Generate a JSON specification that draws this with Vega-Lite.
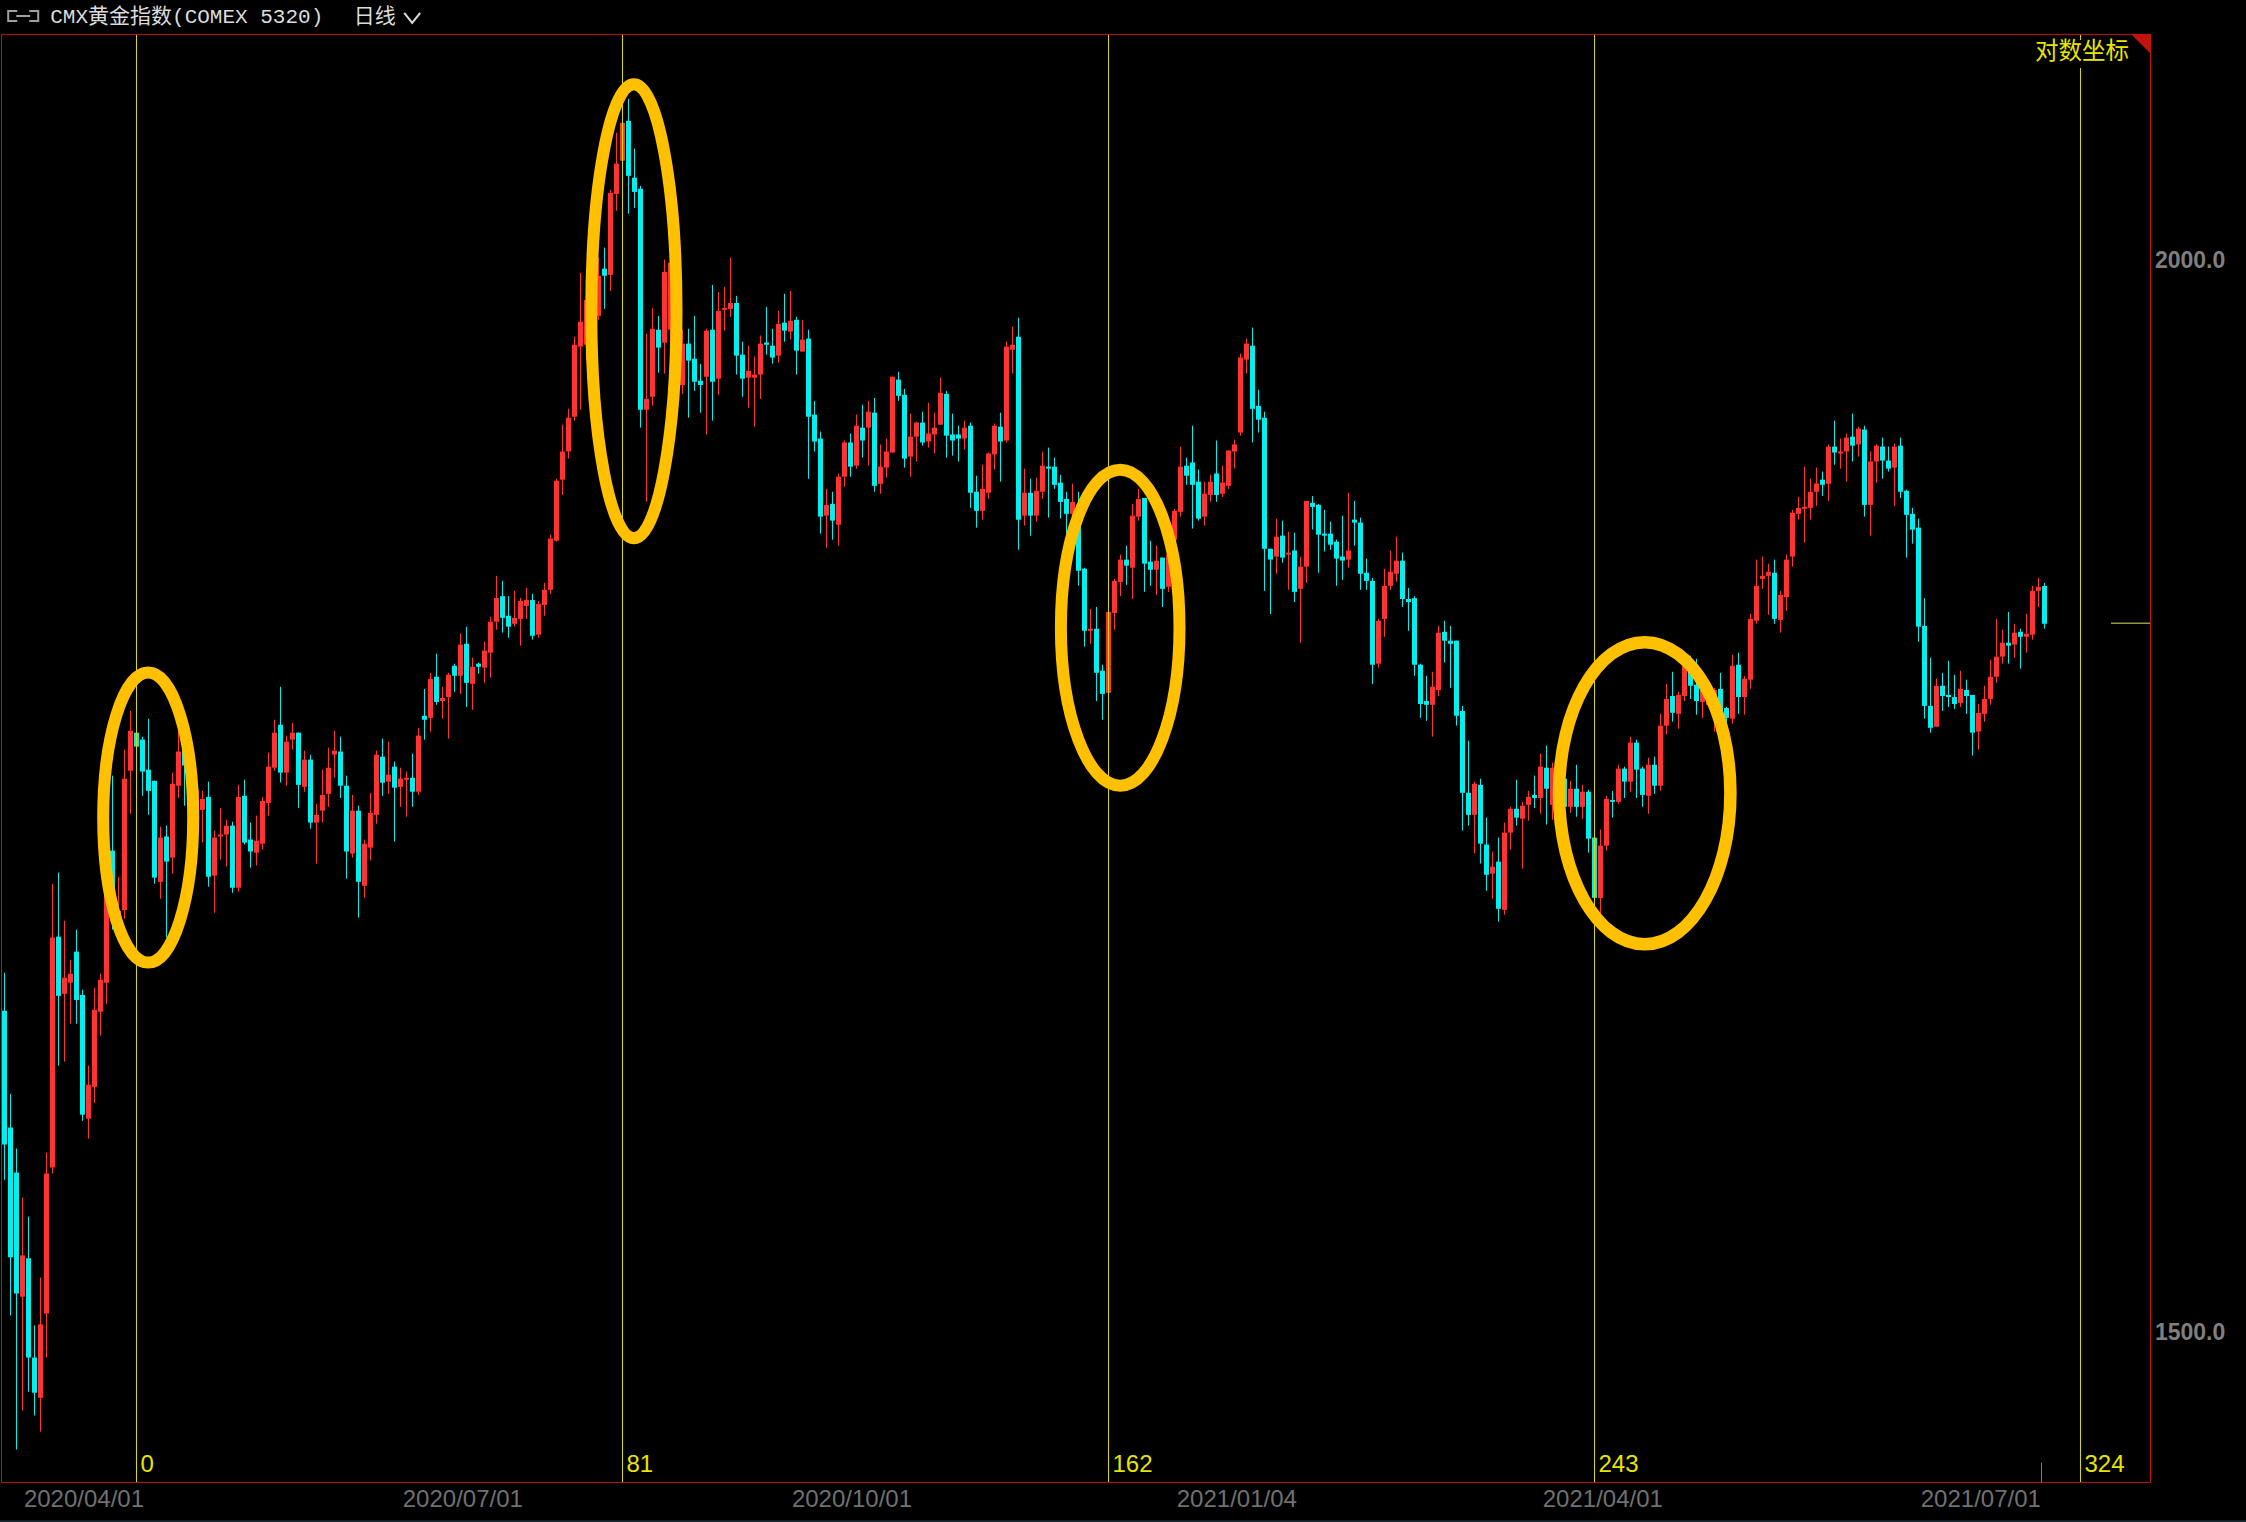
{"$schema":"https://vega.github.io/schema/vega-lite/v6.json","width":2246,"height":1522,"padding":0,"autosize":{"type":"none"},"background":"#000000","config":{"view":{"stroke":null}},
"datasets":{"c":[
{"i":0,"o":1635.5,"h":1652.3,"l":1563.1,"c":1577.9},{"i":1,"o":1585.1,"h":1599.5,"l":1507.2,"c":1530.9},{"i":2,"o":1566.1,"h":1576.2,"l":1454.0,"c":1516.1},{"i":3,"o":1514.8,"h":1555.6,"l":1469.2,"c":1531.7},{"i":4,"o":1530.5,"h":1547.7,"l":1476.7,"c":1490.3},{"i":5,"o":1490.3,"h":1503.2,"l":1467.3,"c":1476.3},{"i":6,"o":1474.3,"h":1522.6,"l":1461.0,"c":1503.6},{"i":7,"o":1508.0,"h":1574.5,"l":1490.3,"c":1565.7},{"i":8,"o":1568.2,"h":1692.2,"l":1565.7,"c":1668.0},{"i":9,"o":1668.4,"h":1697.3,"l":1611.7,"c":1642.1},
{"i":10,"o":1643.0,"h":1675.5,"l":1613.4,"c":1650.1},{"i":11,"o":1647.9,"h":1658.1,"l":1629.9,"c":1651.9},{"i":12,"o":1661.7,"h":1671.5,"l":1629.9,"c":1640.3},{"i":13,"o":1642.5,"h":1644.8,"l":1588.0,"c":1590.6},{"i":14,"o":1588.9,"h":1611.7,"l":1580.4,"c":1603.4},{"i":15,"o":1602.5,"h":1645.7,"l":1595.6,"c":1636.0},{"i":16,"o":1635.1,"h":1651.9,"l":1624.7,"c":1649.2},{"i":17,"o":1647.9,"h":1698.6,"l":1638.6,"c":1691.8},{"i":18,"o":1707.3,"h":1742.0,"l":1671.5,"c":1689.5},{"i":19,"o":1678.7,"h":1695.4,"l":1673.7,"c":1680.0},
{"i":20,"o":1680.4,"h":1754.2,"l":1676.4,"c":1740.6},{"i":21,"o":1744.3,"h":1772.5,"l":1724.3,"c":1763.1},{"i":22,"o":1762.2,"h":1765.9,"l":1751.8,"c":1755.6},{"i":23,"o":1758.9,"h":1760.3,"l":1732.6,"c":1743.9},{"i":24,"o":1744.8,"h":1768.8,"l":1723.8,"c":1734.9},{"i":25,"o":1739.6,"h":1739.6,"l":1692.2,"c":1695.0},{"i":26,"o":1693.1,"h":1718.3,"l":1685.4,"c":1713.3},{"i":27,"o":1713.8,"h":1718.8,"l":1668.0,"c":1702.3},{"i":28,"o":1704.1,"h":1743.4,"l":1696.8,"c":1738.2},{"i":29,"o":1737.3,"h":1763.6,"l":1731.6,"c":1753.3},
{"i":30,"o":1754.2,"h":1762.2,"l":1728.0,"c":1746.7},{"i":31,"o":1740.1,"h":1749.5,"l":1707.8,"c":1717.0},{"i":32,"o":1719.3,"h":1737.7,"l":1710.1,"c":1735.4},{"i":33,"o":1726.1,"h":1734.9,"l":1711.0,"c":1731.2},{"i":34,"o":1732.1,"h":1739.2,"l":1690.9,"c":1695.4},{"i":35,"o":1695.9,"h":1716.5,"l":1679.1,"c":1713.3},{"i":36,"o":1713.8,"h":1727.0,"l":1703.2,"c":1714.7},{"i":37,"o":1714.7,"h":1721.5,"l":1700.0,"c":1718.8},{"i":38,"o":1718.8,"h":1720.6,"l":1688.1,"c":1690.4},{"i":39,"o":1690.4,"h":1737.7,"l":1688.6,"c":1732.1},
{"i":40,"o":1732.6,"h":1740.1,"l":1710.1,"c":1711.0},{"i":41,"o":1712.4,"h":1720.2,"l":1699.6,"c":1706.9},{"i":42,"o":1706.4,"h":1723.4,"l":1700.5,"c":1711.9},{"i":43,"o":1710.5,"h":1732.1,"l":1707.8,"c":1730.2},{"i":44,"o":1729.3,"h":1752.8,"l":1723.4,"c":1746.2},{"i":45,"o":1745.7,"h":1768.3,"l":1744.3,"c":1762.2},{"i":46,"o":1765.9,"h":1784.0,"l":1738.8,"c":1743.4},{"i":47,"o":1743.4,"h":1760.8,"l":1737.3,"c":1757.9},{"i":48,"o":1758.9,"h":1766.9,"l":1754.2,"c":1762.2},{"i":49,"o":1762.2,"h":1762.2,"l":1727.0,"c":1737.7},
{"i":50,"o":1736.8,"h":1753.7,"l":1734.5,"c":1749.5},{"i":51,"o":1749.5,"h":1751.8,"l":1717.4,"c":1720.2},{"i":52,"o":1720.2,"h":1728.9,"l":1701.4,"c":1723.8},{"i":53,"o":1725.7,"h":1744.8,"l":1720.2,"c":1733.0},{"i":54,"o":1733.5,"h":1755.1,"l":1727.5,"c":1745.7},{"i":55,"o":1751.8,"h":1763.1,"l":1741.0,"c":1753.7},{"i":56,"o":1753.3,"h":1760.3,"l":1731.6,"c":1737.3},{"i":57,"o":1737.3,"h":1742.0,"l":1694.5,"c":1706.9},{"i":58,"o":1706.0,"h":1733.0,"l":1704.1,"c":1725.7},{"i":59,"o":1725.7,"h":1728.0,"l":1676.9,"c":1693.1},
{"i":60,"o":1691.3,"h":1712.4,"l":1685.8,"c":1710.5},{"i":61,"o":1708.7,"h":1734.0,"l":1702.8,"c":1724.7},{"i":62,"o":1723.8,"h":1753.7,"l":1719.7,"c":1751.8},{"i":63,"o":1750.9,"h":1759.4,"l":1732.6,"c":1738.7},{"i":64,"o":1739.2,"h":1757.9,"l":1733.5,"c":1742.5},{"i":65,"o":1746.2,"h":1748.6,"l":1711.5,"c":1736.4},{"i":66,"o":1736.8,"h":1745.7,"l":1727.5,"c":1740.6},{"i":67,"o":1740.1,"h":1743.9,"l":1722.9,"c":1741.0},{"i":68,"o":1741.0,"h":1752.3,"l":1727.5,"c":1734.5},{"i":69,"o":1734.5,"h":1764.5,"l":1733.0,"c":1760.8},
{"i":70,"o":1770.2,"h":1783.0,"l":1758.9,"c":1768.3},{"i":71,"o":1769.2,"h":1790.7,"l":1762.7,"c":1787.8},{"i":72,"o":1788.8,"h":1799.9,"l":1775.4,"c":1776.8},{"i":73,"o":1777.2,"h":1784.0,"l":1768.8,"c":1778.7},{"i":74,"o":1779.1,"h":1790.7,"l":1759.4,"c":1789.8},{"i":75,"o":1794.1,"h":1795.1,"l":1781.6,"c":1789.3},{"i":76,"o":1789.3,"h":1809.6,"l":1780.6,"c":1804.3},{"i":77,"o":1804.7,"h":1813.0,"l":1774.4,"c":1785.9},{"i":78,"o":1785.4,"h":1798.0,"l":1773.0,"c":1793.6},{"i":79,"o":1795.1,"h":1795.6,"l":1790.3,"c":1793.6},
{"i":80,"o":1793.2,"h":1805.7,"l":1785.9,"c":1801.4},{"i":81,"o":1800.4,"h":1817.8,"l":1788.3,"c":1815.4},{"i":82,"o":1815.4,"h":1837.9,"l":1811.5,"c":1827.0},{"i":83,"o":1827.9,"h":1835.4,"l":1810.1,"c":1817.3},{"i":84,"o":1818.3,"h":1827.9,"l":1807.6,"c":1813.0},{"i":85,"o":1814.4,"h":1830.5,"l":1813.0,"c":1817.3},{"i":86,"o":1816.8,"h":1827.0,"l":1803.8,"c":1825.5},{"i":87,"o":1823.1,"h":1832.0,"l":1816.8,"c":1826.0},{"i":88,"o":1826.0,"h":1829.0,"l":1806.7,"c":1808.6},{"i":89,"o":1809.1,"h":1825.5,"l":1807.6,"c":1824.1},
{"i":90,"o":1823.6,"h":1834.4,"l":1818.3,"c":1831.0},{"i":91,"o":1831.0,"h":1858.3,"l":1829.0,"c":1856.3},{"i":92,"o":1855.3,"h":1886.4,"l":1854.8,"c":1885.4},{"i":93,"o":1885.9,"h":1913.9,"l":1878.2,"c":1900.2},{"i":94,"o":1900.2,"h":1922.1,"l":1896.6,"c":1917.5},{"i":95,"o":1918.0,"h":1959.6,"l":1916.0,"c":1955.4},{"i":96,"o":1954.4,"h":1993.5,"l":1921.6,"c":1967.5},{"i":97,"o":1955.4,"h":1983.3,"l":1947.6,"c":1979.0},{"i":98,"o":1968.5,"h":1995.1,"l":1960.7,"c":1982.7},{"i":99,"o":1970.6,"h":2001.6,"l":1968.5,"c":1991.9},
{"i":100,"o":1995.7,"h":2007.0,"l":1974.3,"c":1991.9},{"i":101,"o":1992.4,"h":2038.3,"l":1983.8,"c":2036.7},{"i":102,"o":2036.1,"h":2069.8,"l":2026.9,"c":2052.7},{"i":103,"o":2054.3,"h":2077.0,"l":2052.1,"c":2075.3},{"i":104,"o":2076.4,"h":2088.6,"l":2025.3,"c":2046.0},{"i":105,"o":2045.0,"h":2061.0,"l":2028.5,"c":2037.2},{"i":106,"o":2038.9,"h":2040.5,"l":1912.4,"c":1921.6},{"i":107,"o":1921.6,"h":1961.2,"l":1874.7,"c":1927.2},{"i":108,"o":1928.3,"h":1974.8,"l":1923.6,"c":1963.8},{"i":109,"o":1963.3,"h":1970.6,"l":1940.8,"c":1953.9},
{"i":110,"o":1956.5,"h":2000.5,"l":1940.3,"c":1994.0},{"i":111,"o":1963.3,"h":2010.2,"l":1947.6,"c":1998.9},{"i":112,"o":1939.8,"h":1979.0,"l":1926.7,"c":1960.7},{"i":113,"o":1934.4,"h":1963.3,"l":1929.8,"c":1956.0},{"i":114,"o":1956.0,"h":1963.8,"l":1917.5,"c":1947.1},{"i":115,"o":1948.1,"h":1970.6,"l":1931.4,"c":1936.1},{"i":116,"o":1936.6,"h":1945.4,"l":1920.1,"c":1934.4},{"i":117,"o":1938.7,"h":1963.8,"l":1908.9,"c":1962.8},{"i":118,"o":1963.3,"h":1987.0,"l":1916.0,"c":1936.1},{"i":119,"o":1937.7,"h":1983.3,"l":1929.3,"c":1973.2},
{"i":120,"o":1973.8,"h":1986.0,"l":1962.8,"c":1974.8},{"i":121,"o":1974.3,"h":2001.6,"l":1970.1,"c":1977.4},{"i":122,"o":1977.4,"h":1981.2,"l":1939.8,"c":1949.7},{"i":123,"o":1950.2,"h":1957.0,"l":1928.3,"c":1937.7},{"i":124,"o":1938.2,"h":1954.9,"l":1922.6,"c":1941.8},{"i":125,"o":1938.2,"h":1949.2,"l":1912.9,"c":1939.8},{"i":126,"o":1939.8,"h":1960.2,"l":1927.2,"c":1956.0},{"i":127,"o":1956.5,"h":1975.3,"l":1950.2,"c":1955.4},{"i":128,"o":1954.9,"h":1963.8,"l":1945.5,"c":1948.7},{"i":129,"o":1949.7,"h":1973.2,"l":1946.0,"c":1966.4},
{"i":130,"o":1967.0,"h":1982.3,"l":1957.0,"c":1962.8},{"i":131,"o":1962.3,"h":1983.8,"l":1958.1,"c":1968.0},{"i":132,"o":1968.5,"h":1970.1,"l":1939.8,"c":1952.3},{"i":133,"o":1951.8,"h":1968.5,"l":1951.8,"c":1958.1},{"i":134,"o":1958.6,"h":1963.3,"l":1886.4,"c":1918.0},{"i":135,"o":1919.1,"h":1926.2,"l":1900.2,"c":1905.3},{"i":136,"o":1906.8,"h":1910.4,"l":1858.8,"c":1867.3},{"i":137,"o":1867.8,"h":1881.3,"l":1851.8,"c":1873.2},{"i":138,"o":1873.7,"h":1879.8,"l":1855.8,"c":1865.3},{"i":139,"o":1863.3,"h":1889.0,"l":1852.8,"c":1887.4},
{"i":140,"o":1887.4,"h":1905.8,"l":1882.3,"c":1904.8},{"i":141,"o":1904.8,"h":1909.4,"l":1887.4,"c":1892.5},{"i":142,"o":1893.0,"h":1919.1,"l":1891.5,"c":1913.4},{"i":143,"o":1912.4,"h":1924.2,"l":1897.1,"c":1905.8},{"i":144,"o":1912.4,"h":1926.2,"l":1893.0,"c":1920.6},{"i":145,"o":1920.1,"h":1927.7,"l":1879.8,"c":1882.8},{"i":146,"o":1883.8,"h":1903.8,"l":1878.8,"c":1892.5},{"i":147,"o":1892.0,"h":1906.8,"l":1886.9,"c":1900.2},{"i":148,"o":1899.7,"h":1938.7,"l":1899.7,"c":1938.7},{"i":149,"o":1937.2,"h":1941.3,"l":1926.2,"c":1928.8},
{"i":150,"o":1929.3,"h":1932.4,"l":1892.0,"c":1896.6},{"i":151,"o":1897.6,"h":1919.6,"l":1887.4,"c":1907.8},{"i":152,"o":1907.8,"h":1915.5,"l":1895.1,"c":1915.0},{"i":153,"o":1915.0,"h":1920.6,"l":1903.2,"c":1904.8},{"i":154,"o":1905.3,"h":1925.2,"l":1902.2,"c":1909.4},{"i":155,"o":1908.9,"h":1920.1,"l":1899.2,"c":1912.4},{"i":156,"o":1913.9,"h":1938.2,"l":1913.9,"c":1930.4},{"i":157,"o":1929.8,"h":1931.4,"l":1897.1,"c":1908.3},{"i":158,"o":1908.9,"h":1919.6,"l":1898.1,"c":1905.8},{"i":159,"o":1908.9,"h":1913.4,"l":1895.1,"c":1906.8},
{"i":160,"o":1906.8,"h":1916.0,"l":1901.2,"c":1912.4},{"i":161,"o":1913.4,"h":1915.0,"l":1871.7,"c":1879.3},{"i":162,"o":1879.8,"h":1887.9,"l":1861.8,"c":1870.2},{"i":163,"o":1870.2,"h":1893.5,"l":1865.8,"c":1881.3},{"i":164,"o":1879.3,"h":1899.7,"l":1876.2,"c":1899.2},{"i":165,"o":1898.7,"h":1914.5,"l":1891.0,"c":1913.4},{"i":166,"o":1912.9,"h":1920.1,"l":1884.9,"c":1905.3},{"i":167,"o":1905.8,"h":1957.0,"l":1904.8,"c":1954.4},{"i":168,"o":1952.8,"h":1964.9,"l":1940.3,"c":1955.4},{"i":169,"o":1959.6,"h":1969.6,"l":1850.8,"c":1865.8},
{"i":170,"o":1867.8,"h":1891.5,"l":1862.8,"c":1879.3},{"i":171,"o":1879.3,"h":1886.4,"l":1857.8,"c":1867.8},{"i":172,"o":1867.8,"h":1886.9,"l":1864.8,"c":1880.3},{"i":173,"o":1879.8,"h":1900.2,"l":1876.2,"c":1893.0},{"i":174,"o":1892.5,"h":1902.2,"l":1866.8,"c":1891.5},{"i":175,"o":1892.5,"h":1897.1,"l":1881.3,"c":1883.3},{"i":176,"o":1884.4,"h":1888.4,"l":1866.3,"c":1874.7},{"i":177,"o":1876.2,"h":1879.8,"l":1858.3,"c":1868.7},{"i":178,"o":1868.7,"h":1883.9,"l":1865.8,"c":1874.7},{"i":179,"o":1873.2,"h":1879.8,"l":1833.0,"c":1840.4},
{"i":180,"o":1841.4,"h":1841.9,"l":1803.3,"c":1811.0},{"i":181,"o":1811.0,"h":1821.7,"l":1804.7,"c":1812.0},{"i":182,"o":1812.0,"h":1822.6,"l":1777.2,"c":1790.7},{"i":183,"o":1791.7,"h":1794.6,"l":1768.3,"c":1780.6},{"i":184,"o":1781.1,"h":1820.2,"l":1781.1,"c":1820.2},{"i":185,"o":1819.7,"h":1836.4,"l":1811.5,"c":1835.4},{"i":186,"o":1834.9,"h":1848.4,"l":1827.9,"c":1845.9},{"i":187,"o":1845.9,"h":1852.8,"l":1833.4,"c":1842.9},{"i":188,"o":1841.9,"h":1873.7,"l":1826.5,"c":1867.8},{"i":189,"o":1867.3,"h":1881.3,"l":1865.3,"c":1876.2},
{"i":190,"o":1876.7,"h":1876.7,"l":1830.0,"c":1843.9},{"i":191,"o":1844.9,"h":1855.3,"l":1833.0,"c":1840.9},{"i":192,"o":1840.9,"h":1852.8,"l":1828.5,"c":1845.4},{"i":193,"o":1846.9,"h":1846.9,"l":1822.6,"c":1831.5},{"i":194,"o":1832.5,"h":1852.3,"l":1830.0,"c":1848.4},{"i":195,"o":1855.8,"h":1871.2,"l":1852.3,"c":1870.2},{"i":196,"o":1869.7,"h":1902.7,"l":1867.3,"c":1892.5},{"i":197,"o":1893.0,"h":1897.1,"l":1883.3,"c":1887.9},{"i":198,"o":1894.6,"h":1913.4,"l":1861.3,"c":1883.3},{"i":199,"o":1884.9,"h":1891.0,"l":1865.3,"c":1866.3},
{"i":200,"o":1867.3,"h":1884.9,"l":1862.8,"c":1878.8},{"i":201,"o":1878.2,"h":1888.4,"l":1874.7,"c":1884.9},{"i":202,"o":1889.0,"h":1905.8,"l":1874.7,"c":1878.2},{"i":203,"o":1878.8,"h":1893.0,"l":1877.2,"c":1884.4},{"i":204,"o":1882.8,"h":1900.7,"l":1881.3,"c":1900.7},{"i":205,"o":1900.2,"h":1906.3,"l":1891.5,"c":1903.8},{"i":206,"o":1909.9,"h":1950.8,"l":1908.3,"c":1948.7},{"i":207,"o":1947.6,"h":1958.6,"l":1940.3,"c":1956.0},{"i":208,"o":1954.9,"h":1964.4,"l":1904.8,"c":1922.1},{"i":209,"o":1923.6,"h":1931.9,"l":1909.9,"c":1916.5},
{"i":210,"o":1917.5,"h":1920.6,"l":1830.5,"c":1851.3},{"i":211,"o":1851.3,"h":1851.3,"l":1819.2,"c":1845.9},{"i":212,"o":1847.4,"h":1866.3,"l":1838.9,"c":1857.3},{"i":213,"o":1857.8,"h":1865.3,"l":1844.4,"c":1846.9},{"i":214,"o":1848.4,"h":1859.8,"l":1831.0,"c":1849.4},{"i":215,"o":1850.4,"h":1859.3,"l":1825.0,"c":1830.0},{"i":216,"o":1831.5,"h":1847.4,"l":1805.2,"c":1842.4},{"i":217,"o":1842.4,"h":1875.2,"l":1834.4,"c":1875.2},{"i":218,"o":1874.2,"h":1877.7,"l":1860.8,"c":1872.2},{"i":219,"o":1873.2,"h":1873.7,"l":1839.4,"c":1858.3},
{"i":220,"o":1858.8,"h":1870.7,"l":1849.9,"c":1857.8},{"i":221,"o":1858.8,"h":1864.8,"l":1850.8,"c":1853.3},{"i":222,"o":1854.8,"h":1855.8,"l":1833.0,"c":1846.4},{"i":223,"o":1847.4,"h":1867.8,"l":1835.9,"c":1845.4},{"i":224,"o":1845.9,"h":1879.3,"l":1841.9,"c":1850.4},{"i":225,"o":1865.8,"h":1875.2,"l":1852.8,"c":1864.3},{"i":226,"o":1864.3,"h":1866.8,"l":1831.0,"c":1838.9},{"i":227,"o":1839.4,"h":1846.4,"l":1831.0,"c":1835.4},{"i":228,"o":1835.4,"h":1836.9,"l":1785.4,"c":1794.6},{"i":229,"o":1795.1,"h":1816.8,"l":1793.2,"c":1815.9},
{"i":230,"o":1816.8,"h":1841.4,"l":1808.1,"c":1833.0},{"i":231,"o":1833.0,"h":1850.4,"l":1831.0,"c":1839.9},{"i":232,"o":1838.9,"h":1857.3,"l":1834.9,"c":1845.4},{"i":233,"o":1845.4,"h":1849.4,"l":1822.6,"c":1826.5},{"i":234,"o":1826.5,"h":1831.9,"l":1811.0,"c":1825.0},{"i":235,"o":1826.9,"h":1827.9,"l":1789.3,"c":1794.6},{"i":236,"o":1794.6,"h":1795.1,"l":1769.2,"c":1775.8},{"i":237,"o":1777.2,"h":1789.3,"l":1767.8,"c":1775.4},{"i":238,"o":1775.4,"h":1791.2,"l":1760.3,"c":1784.0},{"i":239,"o":1782.5,"h":1813.4,"l":1779.6,"c":1810.1},
{"i":240,"o":1810.5,"h":1815.9,"l":1795.6,"c":1806.2},{"i":241,"o":1806.2,"h":1813.4,"l":1783.5,"c":1804.7},{"i":242,"o":1806.2,"h":1806.2,"l":1765.5,"c":1770.2},{"i":243,"o":1772.5,"h":1774.9,"l":1716.5,"c":1734.0},{"i":244,"o":1734.0,"h":1758.4,"l":1718.8,"c":1723.8},{"i":245,"o":1723.8,"h":1739.2,"l":1706.0,"c":1738.2},{"i":246,"o":1737.7,"h":1740.6,"l":1701.4,"c":1710.5},{"i":247,"o":1710.1,"h":1722.5,"l":1689.0,"c":1696.3},{"i":248,"o":1696.8,"h":1706.9,"l":1685.4,"c":1700.0},{"i":249,"o":1702.3,"h":1713.3,"l":1675.1,"c":1680.9},
{"i":250,"o":1680.4,"h":1720.2,"l":1678.2,"c":1715.6},{"i":251,"o":1715.6,"h":1727.5,"l":1707.8,"c":1726.6},{"i":252,"o":1726.6,"h":1740.1,"l":1718.8,"c":1722.5},{"i":253,"o":1722.0,"h":1729.8,"l":1699.1,"c":1728.0},{"i":254,"o":1728.4,"h":1734.9,"l":1721.1,"c":1732.1},{"i":255,"o":1733.0,"h":1742.0,"l":1727.0,"c":1731.6},{"i":256,"o":1731.6,"h":1752.3,"l":1724.3,"c":1746.2},{"i":257,"o":1745.7,"h":1756.1,"l":1719.3,"c":1735.9},{"i":258,"o":1728.4,"h":1748.1,"l":1721.5,"c":1745.7},{"i":259,"o":1737.7,"h":1742.5,"l":1723.8,"c":1728.4},
{"i":260,"o":1740.6,"h":1740.6,"l":1723.8,"c":1727.5},{"i":261,"o":1727.5,"h":1739.6,"l":1724.7,"c":1735.9},{"i":262,"o":1735.9,"h":1747.1,"l":1722.9,"c":1727.5},{"i":263,"o":1727.5,"h":1737.7,"l":1722.0,"c":1734.5},{"i":264,"o":1734.5,"h":1735.4,"l":1706.4,"c":1712.8},{"i":265,"o":1713.3,"h":1713.3,"l":1680.4,"c":1685.8},{"i":266,"o":1685.8,"h":1717.0,"l":1678.2,"c":1709.6},{"i":267,"o":1709.6,"h":1732.6,"l":1707.3,"c":1731.2},{"i":268,"o":1730.7,"h":1734.9,"l":1722.5,"c":1729.8},{"i":269,"o":1729.8,"h":1747.1,"l":1728.9,"c":1745.3},
{"i":270,"o":1745.3,"h":1746.2,"l":1731.6,"c":1739.2},{"i":271,"o":1739.2,"h":1760.3,"l":1734.5,"c":1757.5},{"i":272,"o":1757.5,"h":1758.9,"l":1731.6,"c":1744.8},{"i":273,"o":1745.3,"h":1746.2,"l":1727.5,"c":1733.0},{"i":274,"o":1732.6,"h":1750.4,"l":1724.3,"c":1747.1},{"i":275,"o":1747.1,"h":1750.9,"l":1733.5,"c":1737.3},{"i":276,"o":1737.3,"h":1771.1,"l":1734.9,"c":1765.5},{"i":277,"o":1765.5,"h":1785.4,"l":1761.3,"c":1778.2},{"i":278,"o":1779.6,"h":1791.2,"l":1767.4,"c":1771.6},{"i":279,"o":1771.1,"h":1781.6,"l":1764.1,"c":1780.1},
{"i":280,"o":1779.6,"h":1794.6,"l":1777.2,"c":1794.1},{"i":281,"o":1791.2,"h":1799.0,"l":1778.2,"c":1784.5},{"i":282,"o":1785.0,"h":1797.5,"l":1770.7,"c":1777.2},{"i":283,"o":1776.8,"h":1785.9,"l":1769.2,"c":1782.5},{"i":284,"o":1775.4,"h":1784.9,"l":1774.4,"c":1782.5},{"i":285,"o":1771.6,"h":1783.5,"l":1762.7,"c":1782.5},{"i":286,"o":1783.0,"h":1790.7,"l":1768.3,"c":1773.0},{"i":287,"o":1773.9,"h":1774.4,"l":1765.9,"c":1769.2},{"i":288,"o":1768.8,"h":1799.4,"l":1766.4,"c":1794.1},{"i":289,"o":1794.6,"h":1800.4,"l":1771.1,"c":1779.1},
{"i":290,"o":1779.1,"h":1789.3,"l":1770.7,"c":1787.9},{"i":291,"o":1787.4,"h":1819.2,"l":1783.0,"c":1816.8},{"i":292,"o":1815.9,"h":1845.9,"l":1814.4,"c":1833.0},{"i":293,"o":1836.4,"h":1847.4,"l":1831.5,"c":1837.9},{"i":294,"o":1837.9,"h":1843.9,"l":1818.8,"c":1839.9},{"i":295,"o":1839.4,"h":1845.9,"l":1814.4,"c":1816.8},{"i":296,"o":1816.3,"h":1830.5,"l":1810.1,"c":1828.5},{"i":297,"o":1827.4,"h":1848.4,"l":1820.7,"c":1845.9},{"i":298,"o":1847.4,"h":1870.7,"l":1842.4,"c":1869.2},{"i":299,"o":1868.7,"h":1877.2,"l":1865.8,"c":1871.7},
{"i":300,"o":1871.2,"h":1892.5,"l":1854.3,"c":1872.2},{"i":301,"o":1871.7,"h":1886.4,"l":1865.8,"c":1879.8},{"i":302,"o":1879.8,"h":1892.0,"l":1872.7,"c":1884.0},{"i":303,"o":1885.9,"h":1890.0,"l":1877.7,"c":1883.3},{"i":304,"o":1883.8,"h":1903.8,"l":1875.2,"c":1902.7},{"i":305,"o":1902.7,"h":1916.0,"l":1893.5,"c":1899.7},{"i":306,"o":1899.2,"h":1906.8,"l":1891.5,"c":1900.2},{"i":307,"o":1900.2,"h":1909.4,"l":1884.9,"c":1907.3},{"i":308,"o":1907.8,"h":1919.6,"l":1895.1,"c":1903.2},{"i":309,"o":1903.8,"h":1912.9,"l":1897.6,"c":1911.9},
{"i":310,"o":1911.4,"h":1913.4,"l":1867.3,"c":1873.2},{"i":311,"o":1873.2,"h":1900.2,"l":1857.8,"c":1895.1},{"i":312,"o":1895.1,"h":1903.8,"l":1884.4,"c":1903.2},{"i":313,"o":1902.7,"h":1907.3,"l":1886.4,"c":1895.6},{"i":314,"o":1895.6,"h":1902.7,"l":1890.0,"c":1891.5},{"i":315,"o":1892.0,"h":1904.3,"l":1872.7,"c":1902.7},{"i":316,"o":1903.2,"h":1907.3,"l":1876.7,"c":1879.8},{"i":317,"o":1880.3,"h":1880.8,"l":1846.9,"c":1868.2},{"i":318,"o":1868.7,"h":1871.7,"l":1853.8,"c":1860.8},{"i":319,"o":1861.8,"h":1866.3,"l":1805.7,"c":1813.0},
{"i":320,"o":1813.4,"h":1826.9,"l":1768.8,"c":1774.9},{"i":321,"o":1774.9,"h":1798.0,"l":1762.2,"c":1764.5},{"i":322,"o":1765.0,"h":1787.9,"l":1765.0,"c":1784.5},{"i":323,"o":1784.5,"h":1790.7,"l":1772.5,"c":1779.6},{"i":324,"o":1780.1,"h":1796.5,"l":1774.4,"c":1779.1},{"i":325,"o":1779.1,"h":1789.8,"l":1773.5,"c":1775.8},{"i":326,"o":1776.3,"h":1791.7,"l":1774.4,"c":1783.0},{"i":327,"o":1782.5,"h":1787.4,"l":1771.1,"c":1779.6},{"i":328,"o":1780.1,"h":1780.1,"l":1751.4,"c":1762.2},{"i":329,"o":1762.7,"h":1775.8,"l":1754.2,"c":1771.6},
{"i":330,"o":1771.1,"h":1784.5,"l":1767.4,"c":1778.2},{"i":331,"o":1778.2,"h":1797.0,"l":1775.4,"c":1788.8},{"i":332,"o":1788.8,"h":1816.8,"l":1785.9,"c":1798.5},{"i":333,"o":1798.5,"h":1811.5,"l":1795.1,"c":1805.2},{"i":334,"o":1805.2,"h":1820.2,"l":1795.1,"c":1803.8},{"i":335,"o":1804.3,"h":1814.4,"l":1798.0,"c":1810.1},{"i":336,"o":1810.5,"h":1812.0,"l":1792.7,"c":1808.1},{"i":337,"o":1808.1,"h":1819.2,"l":1800.4,"c":1809.6},{"i":338,"o":1809.1,"h":1832.9,"l":1806.7,"c":1830.5},{"i":339,"o":1830.5,"h":1836.9,"l":1822.6,"c":1832.5},
{"i":340,"o":1832.9,"h":1834.4,"l":1812.0,"c":1814.4}
]},
"layer":[
{"data":{"name":"c"},"mark":{"type":"rule","strokeWidth":1},"encoding":{"x":{"field":"i","type":"quantitative","axis":null,"scale":{"type":"linear","domain":[-0.75,373.583],"nice":false,"zero":false}},"y":{"field":"l","type":"quantitative","axis":null,"scale":{"type":"log","domain":[1426.0,2144.8],"nice":false}},"y2":{"field":"h"},"color":{"condition":{"test":"datum.c>=datum.o","value":"#FF3333"},"value":"#00F0F0"}}},
{"data":{"name":"c"},"mark":{"type":"rule","strokeWidth":5},"encoding":{"x":{"field":"i","type":"quantitative","axis":null},"y":{"field":"o","type":"quantitative","axis":null},"y2":{"field":"c"},"color":{"condition":{"test":"datum.c>=datum.o","value":"#FF3333"},"value":"#00F0F0"}}},
{"data":{"values":[{"k":22},{"k":103},{"k":184},{"k":265},{"k":346}]},"mark":{"type":"rule","strokeWidth":1,"color":"#D8D800"},"encoding":{"x":{"field":"k","type":"quantitative","axis":null},"y":{"datum":2125.1,"type":"quantitative","axis":null},"y2":{"datum":1441.2}}},
{"data":{"values":[{"a":-0.5,"b":357.67,"t":2125.1,"u":1441.2}]},"mark":{"type":"rect","fillOpacity":0,"stroke":"#C4120C","strokeWidth":1},"encoding":{"x":{"field":"a","type":"quantitative","axis":null},"x2":{"field":"b"},"y":{"field":"t","type":"quantitative","axis":null},"y2":{"field":"u"}}},
{"data":{"values":[{"a":-0.75,"b":373.583,"t":1426.7,"u":1426.0}]},"mark":{"type":"rect","fill":"#1C2A30"},"encoding":{"x":{"field":"a","type":"quantitative","axis":null},"x2":{"field":"b"},"y":{"field":"t","type":"quantitative","axis":null},"y2":{"field":"u"}}},
{"data":{"values":[{"a":338.4,"b":354.1,"t":2121.9,"u":2106.1}]},"mark":{"type":"rect","fill":"#000000"},"encoding":{"x":{"field":"a","type":"quantitative","axis":null},"x2":{"field":"b"},"y":{"field":"t","type":"quantitative","axis":null},"y2":{"field":"u"}}},
{"data":{"values":[{"k":356.08,"p":2119.7}]},"mark":{"type":"point","shape":"M-10,-10 L10,-10 L10,10 Z","size":4,"filled":true,"fill":"#C0140C","opacity":1},"encoding":{"x":{"field":"k","type":"quantitative","axis":null},"y":{"field":"p","type":"quantitative","axis":null}}},
{"data":{"values":[{"k":351.08,"b":357.6,"p":1814.7}]},"mark":{"type":"rule","strokeWidth":1,"color":"#E0E060"},"encoding":{"x":{"field":"k","type":"quantitative","axis":null},"x2":{"field":"b"},"y":{"field":"p","type":"quantitative","axis":null}}},
{"data":{"values":[{"k":339.5}]},"mark":{"type":"rule","strokeWidth":1,"color":"#808080"},"encoding":{"x":{"field":"k","type":"quantitative","axis":null},"y":{"datum":1448.9,"type":"quantitative","axis":null},"y2":{"datum":1441.2}}},
{"data":{"values":[{"k":23.95,"p":1722.5}]},"mark":{"type":"point","shape":"M-45,0 A45,145 0 1,1 45,0 A45,145 0 1,1 -45,0 Z","size":4,"filled":false,"stroke":"#FFC000","strokeWidth":12,"opacity":1},"encoding":{"x":{"field":"k","type":"quantitative","axis":null},"y":{"field":"p","type":"quantitative","axis":null}}},
{"data":{"values":[{"k":104.9,"p":1973.0}]},"mark":{"type":"point","shape":"M-42.6,0 A42.6,227 0 1,1 42.6,0 A42.6,227 0 1,1 -42.6,0 Z","size":4,"filled":false,"stroke":"#FFC000","strokeWidth":12,"opacity":1},"encoding":{"x":{"field":"k","type":"quantitative","axis":null},"y":{"field":"p","type":"quantitative","axis":null}}},
{"data":{"values":[{"k":185.95,"p":1812.5}]},"mark":{"type":"point","shape":"M-59.3,0 A59.3,158 0 1,1 59.3,0 A59.3,158 0 1,1 -59.3,0 Z","size":4,"filled":false,"stroke":"#FFC000","strokeWidth":12,"opacity":1},"encoding":{"x":{"field":"k","type":"quantitative","axis":null},"y":{"field":"p","type":"quantitative","axis":null}}},
{"data":{"values":[{"k":273.37,"p":1733.8}]},"mark":{"type":"point","shape":"M-85.7,0 A85.7,151 0 1,1 85.7,0 A85.7,151 0 1,1 -85.7,0 Z","size":4,"filled":false,"stroke":"#FFC000","strokeWidth":12.5,"opacity":1},"encoding":{"x":{"field":"k","type":"quantitative","axis":null},"y":{"field":"p","type":"quantitative","axis":null}}},
{"data":{"values":[{"k":22,"t":"0"},{"k":103,"t":"81"},{"k":184,"t":"162"},{"k":265,"t":"243"},{"k":346,"t":"324"}]},"mark":{"type":"text","align":"left","baseline":"middle","dx":4,"font":"Liberation Sans","fontSize":24,"color":"#E6E600"},"encoding":{"x":{"field":"k","type":"quantitative","axis":null},"y":{"datum":1448.1,"type":"quantitative","axis":null},"text":{"field":"t"}}},
{"data":{"values":[{"k":23.25,"t":"2020/04/01"},{"k":86.4,"t":"2020/07/01"},{"k":151.25,"t":"2020/10/01"},{"k":215.4,"t":"2021/01/04"},{"k":276.4,"t":"2021/04/01"},{"k":339.4,"t":"2021/07/01"}]},"mark":{"type":"text","align":"right","baseline":"middle","font":"Liberation Sans","fontSize":24,"color":"#707070"},"encoding":{"x":{"field":"k","type":"quantitative","axis":null},"y":{"datum":1434.5,"type":"quantitative","axis":null},"text":{"field":"t"}}},
{"data":{"values":[{"p":2000,"t":"2000.0"},{"p":1500,"t":"1500.0"}]},"mark":{"type":"text","align":"left","baseline":"middle","font":"Liberation Sans","fontWeight":"bold","fontSize":23,"color":"#7F7F7F"},"encoding":{"x":{"datum":358.4,"type":"quantitative","axis":null},"y":{"field":"p","type":"quantitative","axis":null},"text":{"field":"t"}}},
{"data":{"values":[{"k":354.08,"p":2115.1,"t":"对数坐标"}]},"mark":{"type":"text","align":"right","baseline":"middle","font":"Noto Sans CJK SC","fontSize":23.5,"color":"#E6E600"},"encoding":{"x":{"field":"k","type":"quantitative","axis":null},"y":{"field":"p","type":"quantitative","axis":null},"text":{"field":"t"}}},
{"data":{"values":[{"k":7.62,"p":2135.1,"t":"CMX黄金指数(COMEX 5320)"},{"k":58.2,"p":2135.1,"t":"日线"}]},"mark":{"type":"text","align":"left","baseline":"middle","font":"Liberation Mono, Noto Sans CJK SC","fontSize":21,"color":"#DCDCDC"},"encoding":{"x":{"field":"k","type":"quantitative","axis":null},"y":{"field":"p","type":"quantitative","axis":null},"text":{"field":"t"}}},
{"data":{"values":[{"k":67.95,"p":2134.5}]},"mark":{"type":"point","shape":"M-8,-5 L0,5 L8,-5","size":4,"filled":false,"stroke":"#DCDCDC","strokeWidth":2,"opacity":1},"encoding":{"x":{"field":"k","type":"quantitative","axis":null},"y":{"field":"p","type":"quantitative","axis":null}}},
{"data":{"values":[{"k":3.12,"p":2135.6}]},"mark":{"type":"point","shape":"M-6,-5 L-15,-5 L-15,5 L-6,5 M6,-5 L15,-5 L15,5 L6,5 M-7,0 L7,0","size":4,"filled":false,"stroke":"#A0A0A0","strokeWidth":2,"opacity":1},"encoding":{"x":{"field":"k","type":"quantitative","axis":null},"y":{"field":"p","type":"quantitative","axis":null}}}
]}
